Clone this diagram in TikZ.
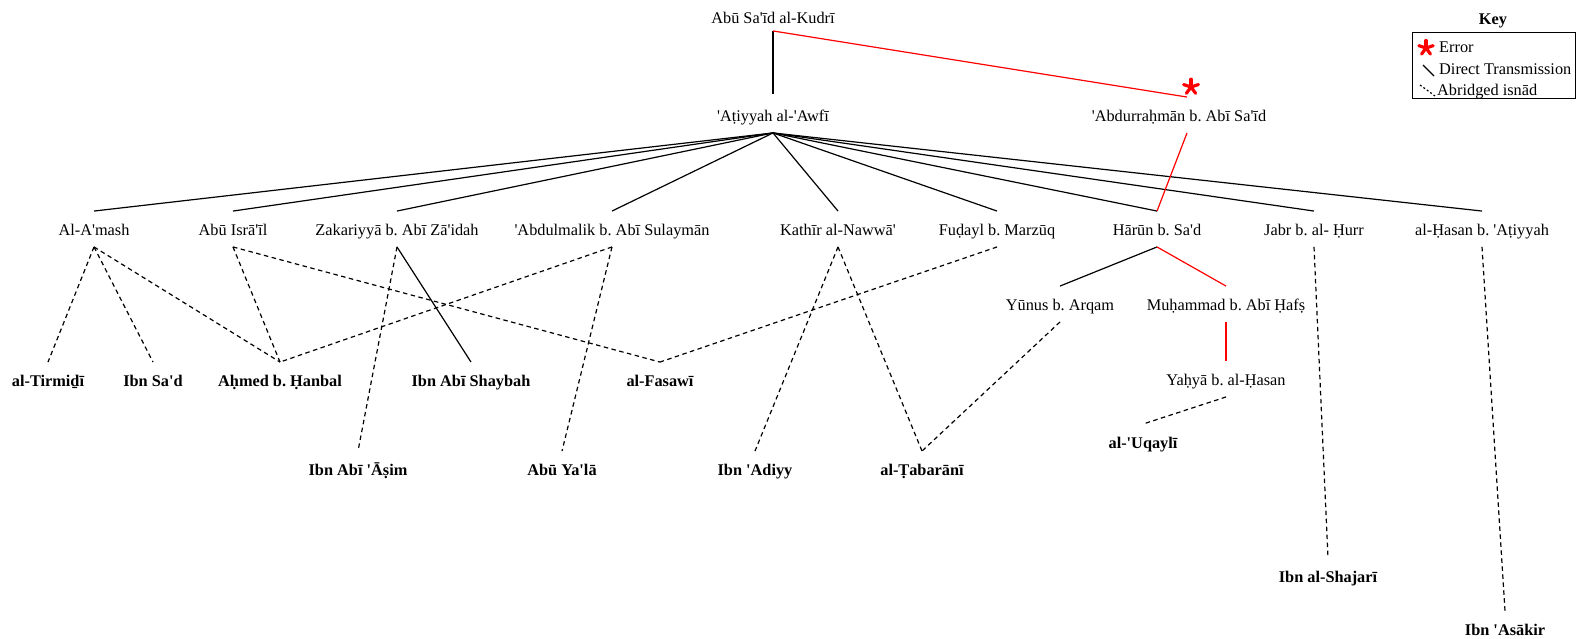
\documentclass[tikz,border=0pt]{standalone}
\usepackage{fontspec}
\setmainfont{Liberation Serif}[Ligatures=TeXOff]
\begin{document}
\frenchspacing
\begin{tikzpicture}[x=1pt,y=-1pt,
  every node/.style={font=\fontsize{16.3}{19}\selectfont, text height=14pt, text depth=0.5pt, inner xsep=2pt, inner ysep=10.5pt},
  src/.style={font=\fontsize{16.3}{19}\selectfont\bfseries},
  keyent/.style={anchor=west, inner xsep=0pt, text height=11pt, text depth=3.5pt},
  solidl/.style={line width=1.2pt, black},
  dashl/.style={line width=1.2pt, dash pattern=on 4.5pt off 3.5pt},
  errl/.style={line width=1.2pt, red},
  astray/.style={red, line width=3.2pt, line cap=round},
]
\useasboundingbox (0,0) rectangle (1586,639);
\fill[white] (0,0) rectangle (1586,639);

% transmitters
\node (kud) at (773,17) {Abū Sa'īd al-Kudrī};
\node (ati) at (773,115) {'Aṭiyyah al-'Awfī};
\node (abd) at (1179,115) {'Abdurraḥmān b. Abī Sa'īd};
\node (ama) at (94,229) {Al-A'mash};
\node (isr) at (233,229) {Abū Isrā'īl};
\node (zak) at (397,229) {Zakariyyā b. Abī Zā'idah};
\node (abm) at (612,229) {'Abdulmalik b. Abī Sulaymān};
\node (kat) at (838,229) {Kathīr al-Nawwā'};
\node (fud) at (997,229) {Fuḍayl b. Marzūq};
\node (har) at (1157,229) {Hārūn b. Sa'd};
\node (jab) at (1314,229) {Jabr b. al- Ḥurr};
\node (has) at (1482,229) {al-Ḥasan b. 'Aṭiyyah};
\node (yun) at (1060,304) {Yūnus b. Arqam};
\node (muh) at (1226,304) {Muḥammad b. Abī Ḥafṣ};
\node (yah) at (1226,379) {Yaḥyā b. al-Ḥasan};

% collectors
\node[src] (uqa) at (1143,442) {al-'Uqaylī};
\node[src] (tir) at (48,380) {al-Tirmiḏī};
\node[src] (isa) at (153,380) {Ibn Sa'd};
\node[src] (ahm) at (280,380) {Aḥmed b. Ḥanbal};
\node[src] (ias) at (471,380) {Ibn Abī Shaybah};
\node[src] (fas) at (660,380) {al-Fasawī};
\node[src] (iaa) at (358,469) {Ibn Abī 'Āṣim};
\node[src] (aby) at (562,469) {Abū Ya'lā};
\node[src] (iad) at (755,469) {Ibn 'Adiyy};
\node[src] (tab) at (922,469) {al-Ṭabarānī};
\node[src] (sha) at (1328,576) {Ibn al-Shajarī};
\node[src] (asa) at (1505,629) {Ibn 'Asākir};

% connectors
\draw[solidl] ([yshift=4pt]kud.south) -- ([yshift=3pt]ati.north);
\draw[errl] ([yshift=4pt]kud.south) -- ([xshift=8pt]abd.north);
\foreach \t in {ama,isr,zak,abm,kat,fud,har,jab,has}
  \draw[solidl] (ati.south) -- (\t.north);
\draw[errl] ([xshift=8pt]abd.south) -- (har.north);

\foreach \t in {tir,isa,ahm} \draw[dashl] (ama.south) -- (\t.north);
\foreach \t in {ahm,fas} \draw[dashl] (isr.south) -- (\t.north);
\draw[solidl] (zak.south) -- (ias.north);
\draw[dashl] (zak.south) -- (iaa.north);
\foreach \t in {ahm,aby} \draw[dashl] (abm.south) -- (\t.north);
\foreach \t in {iad,tab} \draw[dashl] (kat.south) -- (\t.north);
\draw[dashl] (fud.south) -- (fas.north);
\draw[solidl] (har.south) -- (yun.north);
\draw[errl] (har.south) -- (muh.north);
\draw[errl] (muh.south) -- (yah.north);
\draw[dashl] (yun.south) -- (tab.north);
\draw[dashl] (yah.south) -- (uqa.north);
\draw[dashl] (jab.south) -- (sha.north);
\draw[dashl] (has.south) -- (asa.north);

% error mark
\coordinate (ast) at (1191,87);
\foreach \a in {90,162,234,306,18} \draw[astray] (ast) -- ++(\a:7.8pt);

% key
\node[src] (key) at (1493,18) {Key};
\node[draw, line width=0.8pt, minimum width=163pt, minimum height=66pt, inner sep=0pt, text height=, text depth=] (keybox) at (1493.5,65) {};
\coordinate (kast) at (1426,48);
\foreach \a in {90,162,234,306,18} \draw[astray] (kast) -- ++(\a:7.5pt);
\node[keyent] (kerr) at (1439,49) {Error};
\node[keyent] (kdir) at (1439,71) {Direct Transmission};
\node[keyent] (kabr) at (1437,92) {Abridged isnād};
\coordinate (kd1) at (1423,65); \coordinate (kd2) at (1434,76);
\draw[solidl] (kd1) -- (kd2);
\coordinate (ka1) at (1420,85); \coordinate (ka2) at (1435,96);
\draw[line width=1.2pt, dash pattern=on 2pt off 2.2pt] (ka1) -- (ka2);
\end{tikzpicture}
\end{document}
